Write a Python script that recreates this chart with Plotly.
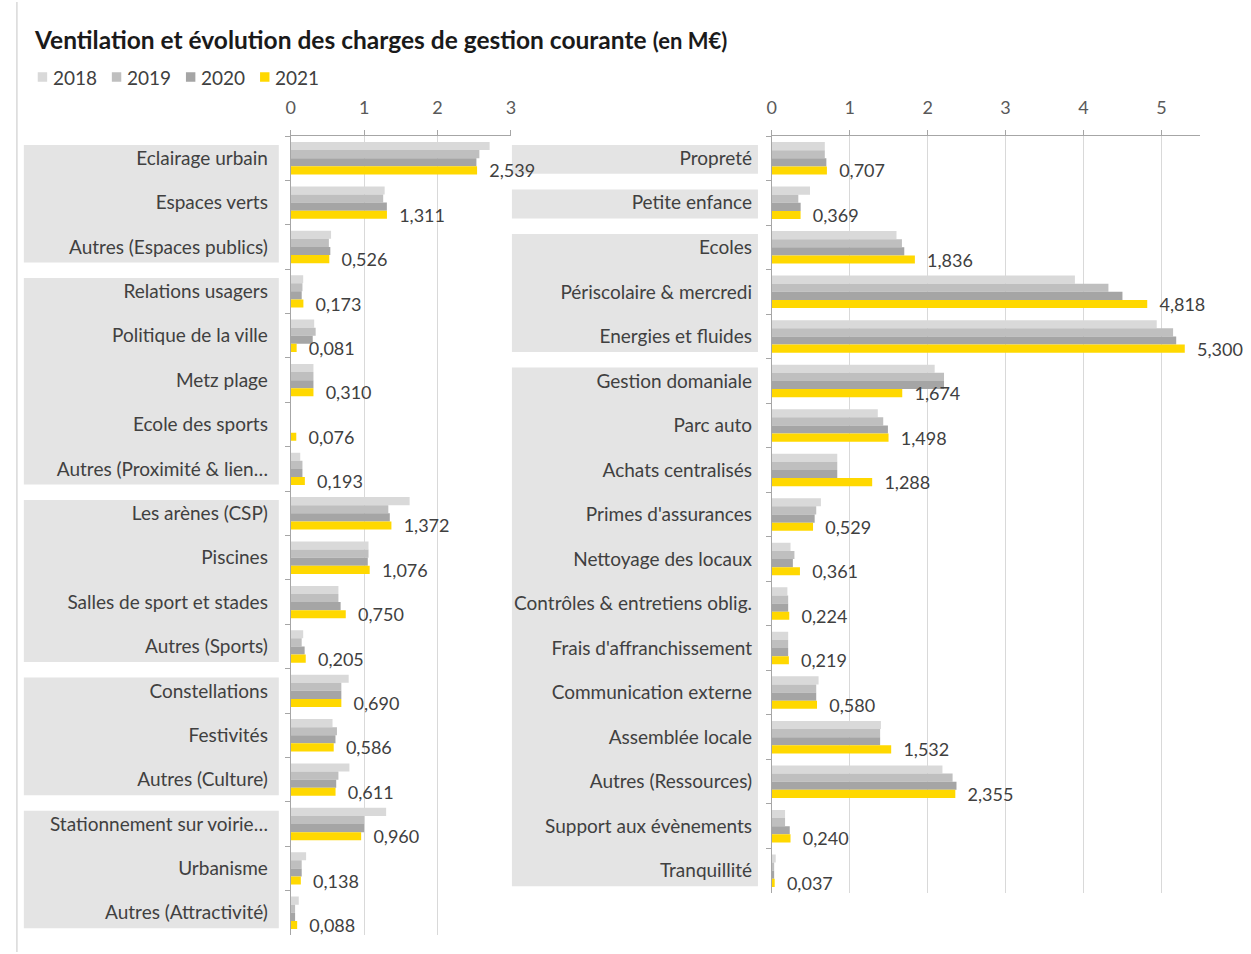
import plotly.graph_objects as go

# ---------------- data ----------------
years = ["2018", "2019", "2020", "2021"]

left_categories = [
    "Eclairage urbain", "Espaces verts", "Autres (Espaces publics)",
    "Relations usagers", "Politique de la ville", "Metz plage", "Ecole des sports",
    "Autres (Proximité & lien…",
    "Les arènes (CSP)", "Piscines", "Salles de sport et stades", "Autres (Sports)",
    "Constellations", "Festivités", "Autres (Culture)",
    "Stationnement sur voirie…", "Urbanisme", "Autres (Attractivité)",
]
left_2018 = [2.71, 1.28, 0.55, 0.17, 0.32, 0.31, 0.0, 0.13, 1.62, 1.06, 0.65, 0.17, 0.79, 0.57, 0.80, 1.30, 0.21, 0.11]
left_2019 = [2.57, 1.26, 0.52, 0.16, 0.34, 0.31, 0.0, 0.16, 1.33, 1.06, 0.65, 0.15, 0.69, 0.63, 0.65, 1.00, 0.15, 0.06]
left_2020 = [2.53, 1.31, 0.54, 0.15, 0.30, 0.31, 0.0, 0.16, 1.35, 1.05, 0.68, 0.19, 0.69, 0.61, 0.62, 1.00, 0.15, 0.06]
left_2021 = [2.539, 1.311, 0.526, 0.173, 0.081, 0.310, 0.076, 0.193, 1.372, 1.076, 0.750, 0.205, 0.690, 0.586, 0.611, 0.960, 0.138, 0.088]

right_categories = [
    "Propreté", "Petite enfance", "Ecoles", "Périscolaire & mercredi", "Energies et fluides",
    "Gestion domaniale", "Parc auto", "Achats centralisés", "Primes d'assurances",
    "Nettoyage des locaux", "Contrôles & entretiens oblig.", "Frais d'affranchissement",
    "Communication externe", "Assemblée locale", "Autres (Ressources)",
    "Support aux évènements", "Tranquillité",
]
right_2018 = [0.68, 0.49, 1.60, 3.89, 4.94, 2.09, 1.36, 0.84, 0.63, 0.24, 0.20, 0.21, 0.60, 1.40, 2.19, 0.17, 0.05]
right_2019 = [0.68, 0.34, 1.67, 4.32, 5.15, 2.21, 1.43, 0.84, 0.57, 0.29, 0.21, 0.21, 0.57, 1.39, 2.32, 0.17, 0.03]
right_2020 = [0.70, 0.37, 1.70, 4.50, 5.19, 2.21, 1.49, 0.84, 0.55, 0.27, 0.21, 0.21, 0.57, 1.39, 2.37, 0.23, 0.03]
right_2021 = [0.707, 0.369, 1.836, 4.818, 5.300, 1.674, 1.498, 1.288, 0.529, 0.361, 0.224, 0.219, 0.580, 1.532, 2.355, 0.240, 0.037]

left_x_ticks = [0, 1, 2, 3]
right_x_ticks = [0, 1, 2, 3, 4, 5]

# groups of categories (first index, last index) shown on grey bands
left_groups = [(0, 2), (3, 7), (8, 11), (12, 14), (15, 17)]
right_groups = [(0, 0), (1, 1), (2, 4), (5, 16)]

# ---------------- style ----------------
W, H = 1251, 954
colors = ["#d9d9d9", "#bfbfbf", "#a5a5a5", "#ffd800"]
FONT = "Lato"
TXT = "#404040"

def px_x(p):
    return p / W

def px_y(p):
    return 1 - p / H

fig = go.Figure()

left_series = [left_2018, left_2019, left_2020, left_2021]
right_series = [right_2018, right_2019, right_2020, right_2021]

NB = "\u00a0\u00a0"
for i, yr in enumerate(years):
    is_last = i == len(years) - 1
    for cats, series, xa, ya in (
        (left_categories, left_series, "x", "y"),
        (right_categories, right_series, "x2", "y2"),
    ):
        fig.add_trace(go.Bar(
            y=cats, x=series[i], orientation="h", name=yr,
            marker=dict(color=colors[i], line=dict(width=0)),
            xaxis=xa, yaxis=ya, legendgroup=yr, showlegend=False,
            texttemplate=(NB + "%{x:.3f}") if is_last else None,
            textposition="outside" if is_last else "none",
            textfont=dict(family=FONT, size=18, color=TXT),
            constraintext="none", cliponaxis=False,
            hoverinfo="x+y+name",
        ))

shapes = []
annotations = []

# grey label bands
def bands(groups, x0p, x1p, yref):
    out = []
    for a, b in groups:
        out.append(dict(type="rect", xref="paper", yref=yref,
                        x0=px_x(x0p), x1=px_x(x1p),
                        y0=a - 0.5 + 0.2, y1=b + 0.5 - 0.15,
                        fillcolor="#e4e4e4", line=dict(width=0), layer="below"))
    return out

shapes += bands(left_groups, 19, 276, "y")
shapes += bands(right_groups, 511, 759, "y2")
# outer frame line on the left
shapes.append(dict(type="line", xref="paper", yref="paper",
                   x0=px_x(12), x1=px_x(12), y0=px_y(952), y1=px_y(2),
                   line=dict(color="#d9d9d9", width=1.5)))

# legend (series keys) at the top left
LEG_X0, LEG_PITCH, LEG_Y = 33, 74.7, 77
for i, yr in enumerate(years):
    sx = LEG_X0 + i * LEG_PITCH
    shapes.append(dict(type="rect", xref="paper", yref="paper",
                       x0=px_x(sx), x1=px_x(sx + 9.5), y0=px_y(LEG_Y + 4.75), y1=px_y(LEG_Y - 4.75),
                       fillcolor=colors[i], line=dict(width=0)))
    annotations.append(dict(xref="paper", yref="paper", x=px_x(sx + 13), y=px_y(LEG_Y),
                            xanchor="left", yanchor="middle", showarrow=False, text=yr,
                            font=dict(family=FONT, size=19, color=TXT)))

# title
annotations.append(dict(
    xref="paper", yref="paper", x=px_x(27), y=px_y(40), xanchor="left", yanchor="middle",
    showarrow=False,
    text="<b>Ventilation et évolution des charges de gestion courante</b> <b><span style='font-size:22px'>(en M€)</span></b>",
    font=dict(family=FONT, size=24.5, color="#1a1a1a"),
))

axis_common = dict(
    showline=True, linecolor="#a6a6a6", linewidth=1,
    tickfont=dict(family=FONT, size=18, color="#595959"),
    ticks="outside", ticklen=5, tickcolor="#a6a6a6", ticklabelstandoff=9,
    showgrid=True, gridcolor="#d9d9d9", gridwidth=1,
    zeroline=False, side="top", fixedrange=True,
)
yaxis_common = dict(
    showline=True, linecolor="#a6a6a6", linewidth=1,
    tickfont=dict(family=FONT, size=19, color=TXT),
    ticks="outside", ticklen=5, tickcolor="#a6a6a6", tickson="boundaries",
    showgrid=False, autorange="reversed",
    type="category", fixedrange=True,
)

fig.update_layout(
    width=W, height=H,
    margin=dict(l=0, r=0, t=0, b=0),
    paper_bgcolor="white", plot_bgcolor="white",
    separators=", ",
    barmode="group", bargap=0.27, bargroupgap=0,
    font=dict(family=FONT, color=TXT),
    showlegend=False,
    xaxis=dict(axis_common, domain=[px_x(288), px_x(510)], range=[0, 3],
               tickvals=left_x_ticks, anchor="y"),
    yaxis=dict(yaxis_common, domain=[px_y(935), px_y(136)], anchor="x", ticklabelstandoff=18),
    xaxis2=dict(axis_common, domain=[px_x(773), px_x(1205)], range=[0, 5.5],
                tickvals=right_x_ticks, anchor="y2"),
    yaxis2=dict(yaxis_common, domain=[px_y(893), px_y(136)], anchor="x2", ticklabelstandoff=15),
    shapes=shapes,
    annotations=annotations,
)

fig.write_html("out.html", config={"displayModeBar": False},
               post_script="document.body.style.margin='0px';")
